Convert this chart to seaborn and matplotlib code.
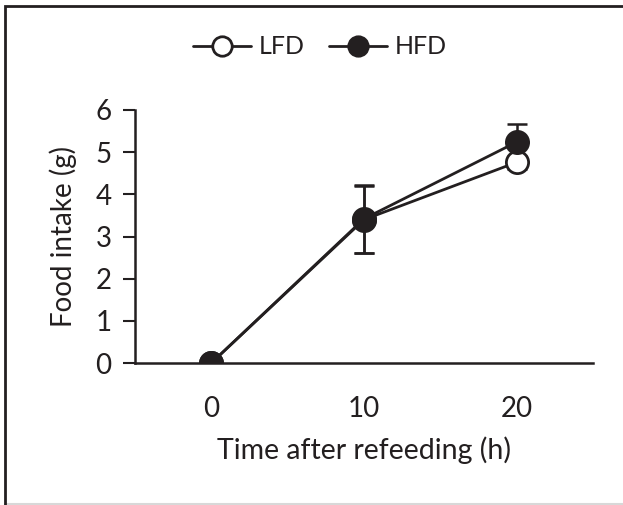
import matplotlib
matplotlib.use("Agg")
import matplotlib.pyplot as plt
import seaborn as sns
import numpy as np
import pandas as pd
from matplotlib.patches import Rectangle
from matplotlib.lines import Line2D

time_h = [0, 10, 20]
lfd_mean = [0.0, 3.40, 4.76]
lfd_err = [0.0, 0.80, 0.15]
hfd_mean = [0.0, 3.42, 5.24]
hfd_err = [0.0, 0.80, 0.42]
x_ticks = [0, 10, 20]
y_ticks = [0, 1, 2, 3, 4, 5, 6]

sns.set_theme(style="white")
plt.rcParams['font.family'] = ['Lato', 'DejaVu Sans']
ink = '#231f20'

fig = plt.figure(figsize=(6.23, 5.05), dpi=100)
ax = fig.add_axes([135/623, 1-363/505, (593-135)/623, (363-110)/505])

df = pd.DataFrame({'time': time_h * 2,
                   'intake': lfd_mean + hfd_mean,
                   'diet': ['LFD'] * 3 + ['HFD'] * 3})

# error bars (behind markers)
ax.errorbar(time_h, hfd_mean, yerr=hfd_err, fmt='none', ecolor=ink, elinewidth=1.8,
            capsize=7, capthick=1.8, zorder=1)
ax.errorbar(time_h, lfd_mean, yerr=lfd_err, fmt='none', ecolor=ink, elinewidth=1.8,
            capsize=7, capthick=1.8, zorder=1)

sns.lineplot(data=df[df.diet == 'LFD'], x='time', y='intake', ax=ax, color=ink,
             marker='o', markersize=16, markerfacecolor='white', markeredgecolor=ink,
             markeredgewidth=2, linewidth=2, zorder=3, legend=False)
sns.lineplot(data=df[df.diet == 'HFD'], x='time', y='intake', ax=ax, color=ink,
             marker='o', markersize=16, markerfacecolor=ink, markeredgecolor=ink,
             markeredgewidth=2, linewidth=2, zorder=4, legend=False)

ax.set_xlim(-5, 25)
ax.set_ylim(0, 6)
ax.set_xticks(x_ticks)
ax.set_yticks(y_ticks)
ax.tick_params(axis='y', direction='out', length=9, width=1.5, color=ink,
               labelsize=20, labelcolor=ink, pad=8, left=True)
ax.tick_params(axis='x', length=0, labelsize=20, labelcolor=ink, pad=24)
for s in ['top', 'right']:
    ax.spines[s].set_visible(False)
for s in ['left', 'bottom']:
    ax.spines[s].set_color(ink)
    ax.spines[s].set_linewidth(1.8)
ax.set_xlabel('Time after refeeding (h)', fontsize=20.5, color=ink, labelpad=10)
ax.set_ylabel('Food intake (g)', fontsize=20, color=ink, labelpad=13)

handles = [Line2D([], [], color=ink, lw=2, marker='o', ms=14, mfc='white', mec=ink, mew=2),
           Line2D([], [], color=ink, lw=2, marker='o', ms=14, mfc=ink, mec=ink, mew=2)]
fig.legend(handles, ['LFD', 'HFD'], loc='center', bbox_to_anchor=(320/623, 1-47/505),
           ncol=2, frameon=False, fontsize=18, handlelength=2.3, handletextpad=0.3,
           columnspacing=1.0, labelcolor=ink)

fig.patches.append(Rectangle((5/623, -0.2), 1.2, 1-6/505+0.2, transform=fig.transFigure,
                             fill=False, edgecolor=ink, linewidth=2, zorder=10))
fig.lines.append(Line2D([5/623, 1], [1.5/505, 1.5/505], transform=fig.transFigure,
                        color='#d8d8d8', lw=1.5))

fig.savefig('out.png', dpi=100)
